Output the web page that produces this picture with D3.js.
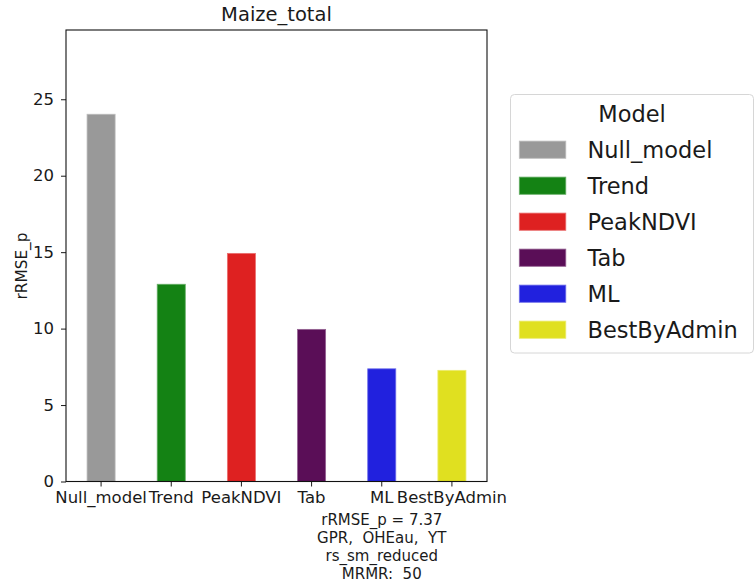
<!DOCTYPE html>
<html>
<head>
<meta charset="utf-8">
<script src="https://cdn.jsdelivr.net/npm/d3@7"></script>
<style>
  html, body { margin: 0; padding: 0; background: #fff; }
  svg { display: block; font-family: "DejaVu Sans", sans-serif; }
  text { white-space: pre; }
</style>
</head>
<body>
<svg id="chart" width="755" height="583"></svg>
<script>
// Model categories and their rRMSE_p values
const models = ["Null_model", "Trend", "PeakNDVI", "Tab", "ML", "BestByAdmin"];
const rrmse = [24.02, 12.9, 14.92, 9.95, 7.37, 7.27];
const colors = ["#999999", "#148214", "#de2121", "#5a0e57", "#2121de", "#e0e020"];
const yTicks = [0, 5, 10, 15, 20, 25];
const yMax = 29.53;
const chartTitle = "Maize_total";
const yLabel = "rRMSE_p";
const legendTitle = "Model";
const noteLines = ["rRMSE_p = 7.37", "GPR,  OHEau,  YT", "rs_sm_reduced", "MRMR:  50"];
const noteModel = "ML";

const svg = d3.select("#chart");
const m = { left: 66, right: 487, top: 30, bottom: 481.5 };
const ink = "#1a1a1a";

const x = d3.scaleBand().domain(models).range([m.left, m.right]).padding(0);
const y = d3.scaleLinear().domain([0, yMax]).range([m.bottom, m.top]);
const barW = x.bandwidth() * 0.4;

// bars
svg.append("g").selectAll("rect")
  .data(models)
  .join("rect")
  .attr("x", d => x(d) + x.bandwidth() / 2 - barW / 2)
  .attr("y", (d, i) => y(rrmse[i]))
  .attr("width", barW)
  .attr("height", (d, i) => y(0) - y(rrmse[i]))
  .attr("fill", (d, i) => colors[i])
  .attr("stroke", (d, i) => d3.interpolateRgb(colors[i], "#ffffff")(0.35))
  .attr("stroke-width", 0.8);

// axes
const yAxis = d3.axisLeft(y).tickValues(yTicks).tickSize(5).tickPadding(7);
const gy = svg.append("g").attr("transform", `translate(${m.left},0)`).call(yAxis);
const xAxis = d3.axisBottom(x).tickSize(5).tickPadding(5);
const gx = svg.append("g").attr("transform", `translate(0,${m.bottom})`).call(xAxis);
[gx, gy].forEach(g => {
  g.select(".domain").remove();
  g.selectAll("text").attr("font-size", 16.5).attr("fill", ink).attr("font-family", "DejaVu Sans, sans-serif");
  g.selectAll("line").attr("stroke", ink).attr("stroke-width", 1);
});

// frame
svg.append("rect")
  .attr("x", m.left).attr("y", m.top)
  .attr("width", m.right - m.left).attr("height", m.bottom - m.top)
  .attr("fill", "none").attr("stroke", "#111").attr("stroke-width", 1.1);

// title and axis label
svg.append("text").attr("x", (m.left + m.right) / 2).attr("y", 20.7)
  .attr("text-anchor", "middle").attr("font-size", 19.5).attr("fill", ink).text(chartTitle);
svg.append("text").attr("transform", `translate(27,266) rotate(-90)`)
  .attr("text-anchor", "middle").attr("font-size", 15.3).attr("fill", ink).text(yLabel);

// annotation under the ML bar
const nx = x(noteModel) + x.bandwidth() / 2;
svg.append("g").selectAll("text")
  .data(noteLines)
  .join("text")
  .attr("x", nx)
  .attr("y", (d, i) => 525 + i * 18)
  .attr("text-anchor", "middle")
  .attr("font-size", 15)
  .attr("fill", ink)
  .text(d => d);

// legend
const lg = svg.append("g");
lg.append("rect").attr("x", 510.5).attr("y", 94.5).attr("width", 243).attr("height", 258.5)
  .attr("rx", 4).attr("fill", "#fff").attr("stroke", "#d6d6d6").attr("stroke-width", 1);
lg.append("text").attr("x", 632).attr("y", 121.7).attr("text-anchor", "middle")
  .attr("font-size", 22.5).attr("fill", ink).text(legendTitle);
const items = lg.selectAll("g.item").data(models).join("g").attr("class", "item")
  .attr("transform", (d, i) => `translate(0,${149.7 + i * 36})`);
items.append("rect").attr("x", 519.3).attr("y", -8.6).attr("width", 46.5).attr("height", 17.2)
  .attr("fill", (d, i) => colors[i])
  .attr("stroke", (d, i) => d3.interpolateRgb(colors[i], "#ffffff")(0.35)).attr("stroke-width", 0.8);
items.append("text").attr("x", 587.5).attr("y", 8)
  .attr("font-size", 22.5).attr("fill", ink).text(d => d);
</script>
</body>
</html>
